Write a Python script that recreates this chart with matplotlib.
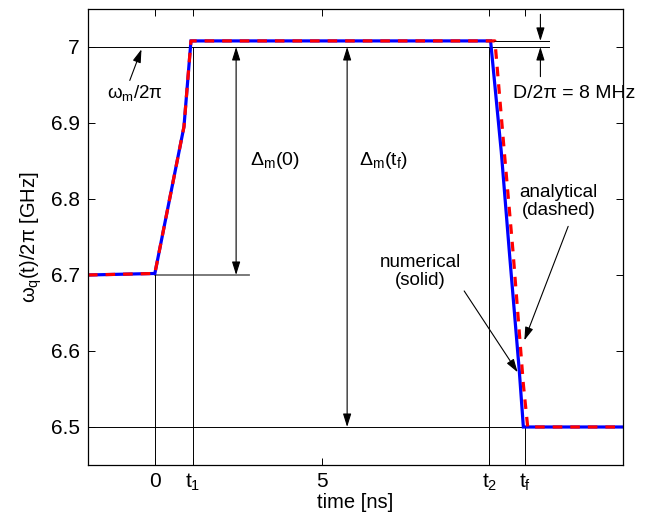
import matplotlib
matplotlib.use("Agg")
import matplotlib.pyplot as plt

plt.rcParams['font.family'] = ['Liberation Sans', 'DejaVu Sans']
plt.rcParams['mathtext.fontset'] = 'custom'
plt.rcParams['mathtext.rm'] = 'Liberation Sans'
plt.rcParams['mathtext.it'] = 'Liberation Sans'
plt.rcParams['mathtext.default'] = 'regular'

# data
t_num = [-2, 0, 0.87, 1.08, 10.04, 10.36, 10.6, 10.9, 11.02, 14]
w_num = [6.700, 6.702, 6.895, 7.008, 7.008, 6.862, 6.731, 6.573, 6.500, 6.500]
t_ana = [-2, 0, 0.87, 1.08, 10.17, 10.45, 10.71, 11.02, 11.15, 14]
w_ana = [6.700, 6.702, 6.895, 7.008, 7.008, 6.862, 6.731, 6.556, 6.500, 6.500]

t1, t2, tf = 1.13, 10.0, 11.06
w_m = 7.0
w_top = 7.008
w_start = 6.702
w_end = 6.5

xticks = [0, t1, 5, t2, tf]
xticklabels = ['0', '$t_1$', '5', '$t_2$', '$t_f$']
yticks = [6.5, 6.6, 6.7, 6.8, 6.9, 7.0]
yticklabels = ['6.5', '6.6', '6.7', '6.8', '6.9', '7']

fig = plt.figure(figsize=(6.45, 5.17), dpi=100)
ax = fig.add_axes([0.1364, 0.1006, 0.8295, 0.882])

ax.set_xlim(-2, 14)
ax.set_ylim(6.45, 7.05)

thin = dict(color='k', lw=0.7)
# guide lines
ax.plot([-2, 11.8], [w_m, w_m], **thin)
ax.plot([t2, 11.8], [w_top, w_top], **thin)
ax.plot([0, 2.81], [6.7, 6.7], color='#707070', lw=1.3)
ax.plot([-2, tf], [w_end, w_end], **thin)
ax.plot([0, 0], [6.45, w_start], **thin)
ax.plot([t1, t1], [6.45, w_m], **thin)
ax.plot([t2, t2], [6.45, w_m], **thin)
ax.plot([tf, tf], [6.45, w_end], **thin)

# curves
ax.plot(t_num, w_num, color='#0000ff', lw=2.3, solid_joinstyle='miter')
ax.plot(t_ana, w_ana, color='#ff0000', lw=2.3, ls=(0, (3, 2.5)))

ax.set_xticks(xticks)
ax.set_xticklabels(xticklabels)
ax.set_yticks(yticks)
ax.set_yticklabels(yticklabels)
ax.tick_params(direction='in', top=True, right=True, length=5, width=0.7,
               labelsize=15)
ax.tick_params(axis='x', pad=5)
ax.tick_params(axis='y', pad=6)
for s in ax.spines.values():
    s.set_linewidth(0.9)

ax.set_xlabel('time [ns]', fontsize=14.5, labelpad=0)
ax.set_ylabel('$\\omega_q$(t)/2π [GHz]', fontsize=14.5, labelpad=5)

ap = dict(arrowstyle='-|>,head_length=0.8,head_width=0.25', color='k', lw=0.8,
          shrinkA=0, shrinkB=0)
dp = dict(arrowstyle='<|-|>,head_length=0.8,head_width=0.25', color='k', lw=0.8,
          shrinkA=0, shrinkB=0)

# omega_m annotation
ax.annotate('', xy=(-0.4, 6.997), xytext=(-0.75, 6.956), arrowprops=ap)
ax.text(-0.6, 6.94, '$\\omega_m$/2π', fontsize=13.5, ha='center', va='center')

# Delta_m(0)
ax.annotate('', xy=(2.43, w_m), xytext=(2.43, 6.7), arrowprops=dp)
ax.text(2.84, 6.85, 'Δ$_m$(0)', fontsize=14, ha='left', va='center')

# Delta_m(tf)
ax.annotate('', xy=(5.75, w_m), xytext=(5.75, w_end), arrowprops=dp)
ax.text(6.1, 6.85, 'Δ$_m$(t$_f$)', fontsize=14, ha='left', va='center')

# D/2pi
ax.annotate('', xy=(11.53, w_top), xytext=(11.53, 7.043), arrowprops=ap)
ax.annotate('', xy=(11.53, w_m), xytext=(11.53, 6.961), arrowprops=ap)
ax.text(10.72, 6.939, 'D/2π = 8 MHz', fontsize=14, ha='left', va='center',
        clip_on=False)

# numerical / analytical
ax.text(7.93, 6.705, 'numerical\n(solid)', fontsize=13.5, ha='center', va='center',
        linespacing=1.1)
ax.annotate('', xy=(10.85, 6.572), xytext=(9.25, 6.679), arrowprops=ap)
ax.text(12.07, 6.797, 'analytical\n(dashed)', fontsize=13.5, ha='center', va='center',
        linespacing=1.1)
ax.annotate('', xy=(11.05, 6.614), xytext=(12.36, 6.764), arrowprops=ap)

fig.savefig('out.png', dpi=100)
